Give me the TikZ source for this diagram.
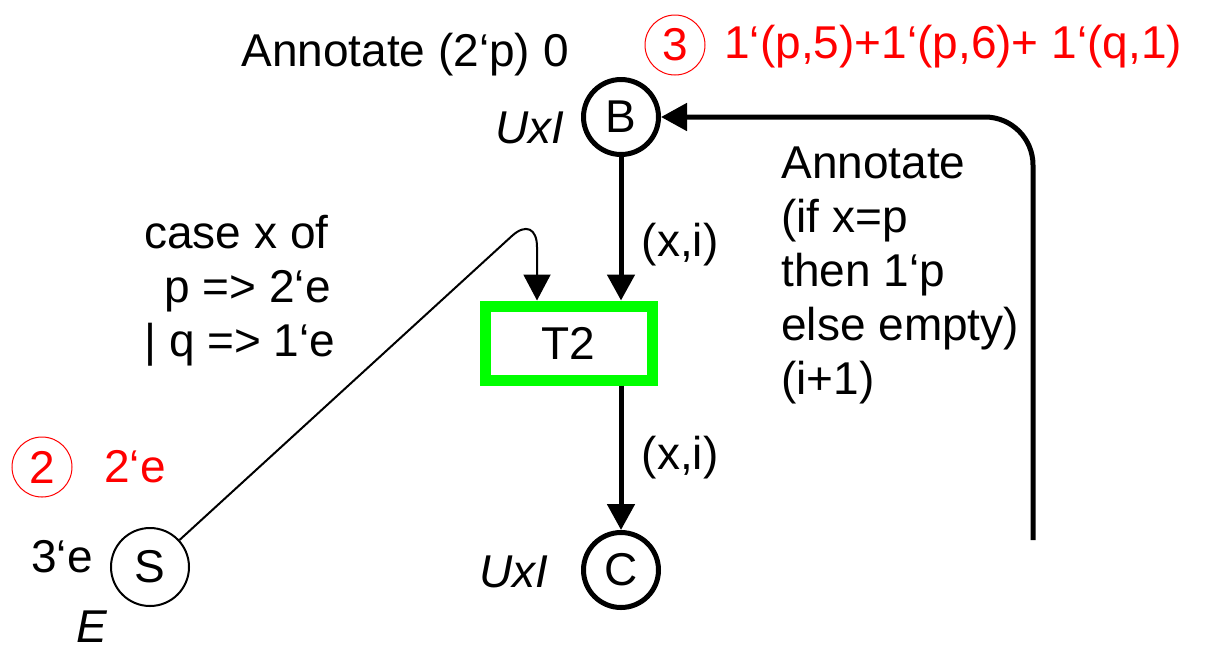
\documentclass[tikz,border=0pt]{standalone}
\usepackage{fontspec}
\setmainfont{Liberation Sans}
\usetikzlibrary{positioning, arrows.meta}
\definecolor{tokencolor}{RGB}{255,0,0}
\definecolor{transcolor}{RGB}{0,255,0}

\begin{document}
\begin{tikzpicture}[x=0.5pt, y=-0.5pt]
  \tikzset{
    every node/.style={font=\fontsize{23}{27}\selectfont},
    place/.style={
      draw,
      circle,
      line width=2.5pt,
      minimum size=37.5pt,
      inner sep=0pt
    },
    thinplace/.style={
      draw,
      circle,
      line width=1pt,
      minimum size=39pt,
      inner sep=0pt
    },
    trans/.style={
      draw=transcolor,
      line width=5.5pt,
      minimum width=83.5pt,
      minimum height=37pt,
      inner sep=0pt
    },
    tokenring/.style={
      draw=tokencolor,
      circle,
      line width=0.5pt,
      minimum size=30pt,
      inner sep=0pt,
      text=tokencolor
    },
    label/.style={inner sep=0pt},
    arc/.style={line width=2.5pt, -{Triangle[length=13pt, width=13.5pt]}},
    thinarc/.style={line width=1pt, -{Triangle[length=13pt, width=13.5pt]}}
  }
  \useasboundingbox (0,0) rectangle (1211,650);

  % Places
  \node[place] (B) at (621, 117) {B};
  \node[place] (C) at (621, 570) {C};
  \node[thinplace] (S) at (150, 567) {S};

  % Transition (green)
  \node[trans] (T2) at (568.5, 343) {T2};

  % Place inscriptions
  \node[label] (Binit) at (405, 55) {Annotate (2‘p) 0};
  \node[label] (Bset) at (530, 128) {\itshape UxI};
  \node[label] (Cset) at (514, 572) {\itshape UxI};
  \node[label] (Sinit) at (62, 557) {3‘e};
  \node[label] (Sset) at (92, 627) {\itshape E};

  % Current markings (red)
  \node[tokenring] (Bcount) at (675, 45) {3};
  \node[label, anchor=west, text=tokencolor] (Bmark) at (724, 47) {1‘(p,5)+1‘(p,6)+ 1‘(q,1)};
  \node[tokenring] (Scount) at (42, 467) {2};
  \node[label, anchor=west, text=tokencolor] (Smark) at (104, 467) {2‘e};

  % Arcs
  \draw[arc] (B.south) -- (B.south |- T2.north);
  \draw[arc] (T2.south -| C.north) -- (C.north);
  \coordinate (Sbend) at (537, 213);
  \draw[thinarc, rounded corners=17pt] (S) -- (Sbend) -- (Sbend |- T2.north);
  \coordinate (Rend) at (1033, 540);
  \draw[arc, rounded corners=24pt] (Rend) -- (Rend |- B) -- (B);

  % Arc inscriptions
  \node[label] (inexpr) at (680, 245) {(x,i)};
  \node[label] (outexpr) at (680, 458) {(x,i)};
  \node[label, anchor=west, align=left] (caseexpr) at (144, 291)
    {case x of\\\hspace*{10pt}p => 2‘e\\| q => 1‘e};
  \node[label, anchor=west, align=left] (backexpr) at (781, 275)
    {Annotate\\(if x=p\\then 1‘p\\else empty)\\(i+1)};
\end{tikzpicture}
\end{document}
